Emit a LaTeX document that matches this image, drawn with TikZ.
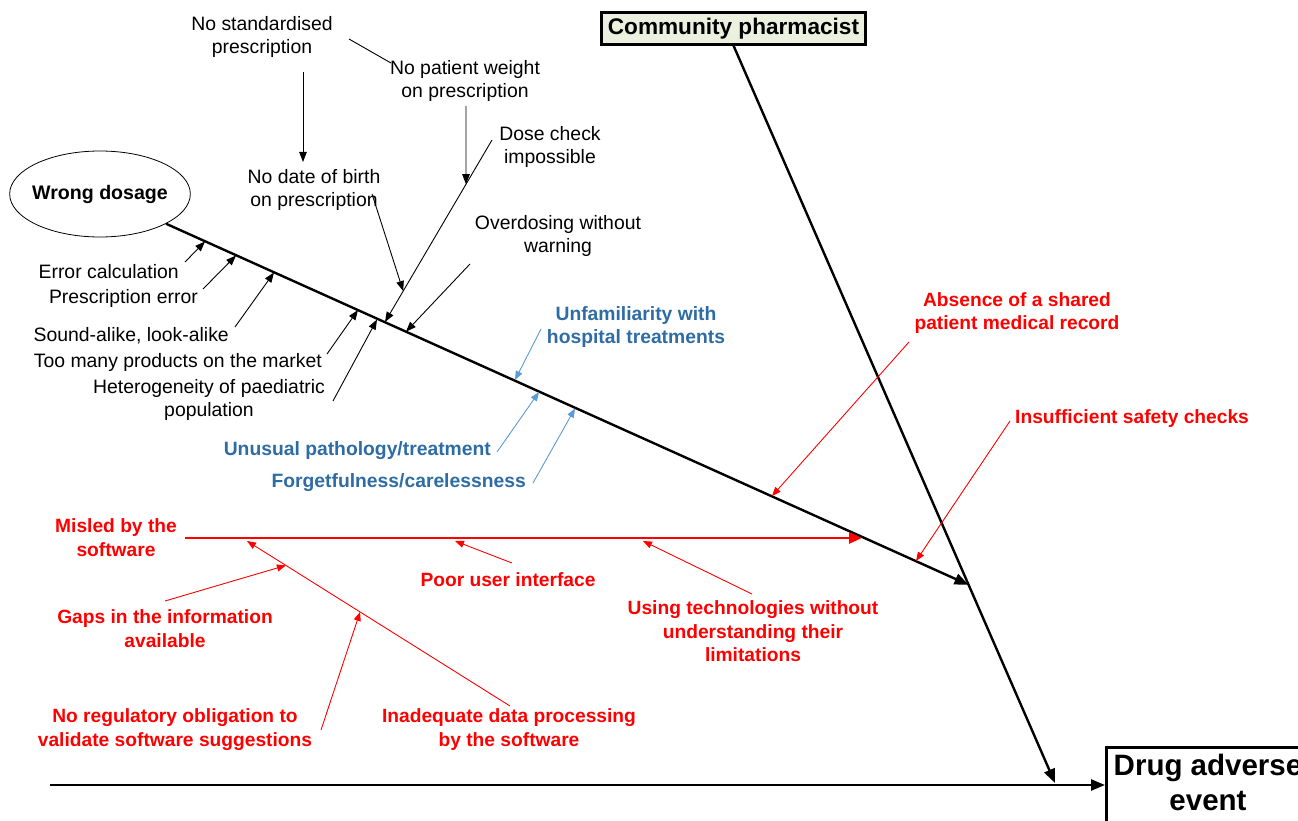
\documentclass[tikz,border=0pt]{standalone}
\usepackage{fontspec}
\setmainfont{Liberation Sans}
\usetikzlibrary{arrows.meta,shapes.geometric,calc}
\definecolor{myred}{RGB}{255,0,0}
\definecolor{myblue}{RGB}{46,108,164}
\definecolor{arrblue}{RGB}{91,155,213}
\definecolor{boxgreen}{RGB}{235,241,222}
\begin{document}
\begin{tikzpicture}[x=1pt,y=-1pt,
  lbl/.style={inner sep=0pt, align=center, font=\fontsize{19.4}{23}\selectfont},
  blbl/.style={inner sep=0pt, align=center, font=\fontsize{19.3}{23}\selectfont\bfseries, text=myblue},
  rlbl/.style={inner sep=0pt, align=center, font=\fontsize{19.2}{23.5}\selectfont\bfseries, text=myred},
  spine/.style={line width=2.4pt, -{Triangle[length=14pt,width=11pt]}},
  rib/.style={line width=0.9pt, -{Triangle[length=10pt,width=7.5pt]}},
  plainrib/.style={line width=0.9pt},
  bluerib/.style={line width=0.9pt, draw=arrblue, -{Triangle[length=9pt,width=7pt]}},
  redrib/.style={line width=0.9pt, draw=myred, -{Triangle[length=9pt,width=7pt]}},
  redspine/.style={line width=2.8pt, draw=myred, -{Triangle[length=13pt,width=11pt]}}
]
\useasboundingbox (0,0) rectangle (1298,821);

% main boxes
\node[ellipse, draw, line width=0.8pt, minimum width=180pt, minimum height=86pt, inner xsep=-4pt, inner ysep=0pt,
      font=\fontsize{19.6}{22}\selectfont\bfseries] (wd) at (100,194) {Wrong dosage};
\node[draw, line width=2.2pt, fill=boxgreen, minimum width=264pt, minimum height=32pt, inner sep=2pt,
      font=\fontsize{22.6}{25}\selectfont\bfseries] (cp) at (733.5,28.5) {Community pharmacist};
\node[draw, line width=2.5pt, anchor=north west, minimum width=215pt, minimum height=100pt] (dae) at (1105,746) {};
\node[inner sep=0pt, align=center, font=\fontsize{29.5}{35}\selectfont\bfseries] (daet) at (1208,782) {Drug adverse\\event};

% spines
\coordinate (jn) at (968.5,584.8);
\coordinate (ms) at (50,785);
\coordinate (cpEnd) at (1055,783);
\draw[spine] (ms) -- (ms -| dae.west);
\draw[spine] (cp.south) -- (cpEnd);
\draw[spine] (wd) -- (jn);

% black labels
\node[lbl] (nsp) at (262,36.5) {No standardised\\prescription};
\node[lbl] (npw) at (465,81) {No patient weight\\on prescription};
\node[lbl] (dci) at (550,147) {Dose check\\impossible};
\node[lbl] (ndb) at (314,189.5) {No date of birth\\on prescription};
\node[lbl] (ovw) at (558,235.5) {Overdosing without\\warning};
\node[lbl, anchor=east] (erc) at (179,272) {Error calculation};
\node[lbl, anchor=east] (pre) at (198,298) {Prescription error};
\node[lbl, anchor=east] (sal) at (229,336) {Sound-alike, look-alike};
\node[lbl, anchor=east] (tmp) at (322,362) {Too many products on the market};
\node[lbl] (het) at (209,399.5) {Heterogeneity of paediatric\\population};

% black rib coordinates
\coordinate (nspA) at (349,39);
\coordinate (npwA) at (391,63);
\coordinate (nspB) at (303,72);
\coordinate (ndbT) at (303,162);
\coordinate (dciA) at (492,140);
\coordinate (dciT) at (385,322);
\coordinate (npwB) at (466,106);
\coordinate (npwT) at ($(dciA)!0.243!(dciT)$);
\coordinate (ndbA) at (372,194);
\coordinate (ndbT2) at ($(dciA)!0.83!(dciT)$);
\coordinate (ovwA) at (470,264);
\coordinate (ovwT) at (406,331.7);
\coordinate (ercA) at (185,262);
\coordinate (ercT) at (205,241.5);
\coordinate (preA) at (203,289);
\coordinate (preT) at (236,255.5);
\coordinate (salA) at (235,327);
\coordinate (salT) at (274,272.5);
\coordinate (tmpA) at (327,354);
\coordinate (tmpT) at (358,310);
\coordinate (hetA) at (333,401);
\coordinate (hetT) at (377,319.5);

\draw[plainrib] (nspA) -- (npwA);
\draw[rib] (nspB) -- (ndbT);
\draw[rib] (dciA) -- (dciT);
\draw[rib] (npwB) -- (npwT);
\draw[rib] (ndbA) -- (ndbT2);
\draw[rib] (ovwA) -- (ovwT);
\draw[rib] (ercA) -- (ercT);
\draw[rib] (preA) -- (preT);
\draw[rib] (salA) -- (salT);
\draw[rib] (tmpA) -- (tmpT);
\draw[rib] (hetA) -- (hetT);

% blue labels
\node[blbl] (unf) at (636,327.5) {Unfamiliarity with\\hospital treatments};
\node[blbl, anchor=east] (unu) at (491,451) {Unusual pathology/treatment};
\node[blbl, anchor=east] (fgt) at (526,483) {Forgetfulness/carelessness};
\coordinate (unfA) at (541,329);
\coordinate (unfT) at (515,380);
\coordinate (unuA) at (497,452);
\coordinate (unuT) at (539,392);
\coordinate (fgtA) at (533,483);
\coordinate (fgtT) at (575,408.5);
\draw[bluerib] (unfA) -- (unfT);
\draw[bluerib] (unuA) -- (unuT);
\draw[bluerib] (fgtA) -- (fgtT);

% red labels
\node[rlbl] (abs) at (1017,313) {Absence of a shared\\patient medical record};
\node[rlbl, anchor=west] (ins) at (1015,419) {Insufficient safety checks};
\node[rlbl] (mis) at (116,537.5) {Misled by the\\software};
\node[rlbl] (pui) at (508,580) {Poor user interface};
\node[rlbl] (utw) at (753,631.5) {Using technologies without\\understanding their\\limitations};
\node[rlbl] (gap) at (165,628.5) {Gaps in the information\\available};
\node[rlbl] (nro) at (175,729.5) {No regulatory obligation to\\validate software suggestions};
\node[rlbl] (idp) at (509,729.5) {Inadequate data processing\\by the software};

\coordinate (absA) at (909,342);
\coordinate (absT) at (772,496);
\coordinate (insA) at (1010,421);
\coordinate (insT) at (916,561);
\coordinate (misA) at (185,538);
\coordinate (misT) at (862,538);
\coordinate (puiA) at (512,563);
\coordinate (puiT) at (455,541);
\coordinate (utwA) at (752,594);
\coordinate (utwT) at (643,541);
\coordinate (idpA) at (510,706);
\coordinate (idpT) at (247,541);
\coordinate (gapT) at ($(idpT)!0.148!(idpA)$);
\coordinate (nroT) at ($(idpT)!0.43!(idpA)$);
\coordinate (gapA) at (165,601);
\coordinate (nroA) at (321,730);

\draw[redrib] (absA) -- (absT);
\draw[redrib] (insA) -- (insT);
\draw[redspine] (misA) -- (misT);
\draw[redrib] (puiA) -- (puiT);
\draw[redrib] (utwA) -- (utwT);
\draw[redrib] (idpA) -- (idpT);
\draw[redrib] (gapA) -- (gapT);
\draw[redrib] (nroA) -- (nroT);
\end{tikzpicture}
\end{document}
